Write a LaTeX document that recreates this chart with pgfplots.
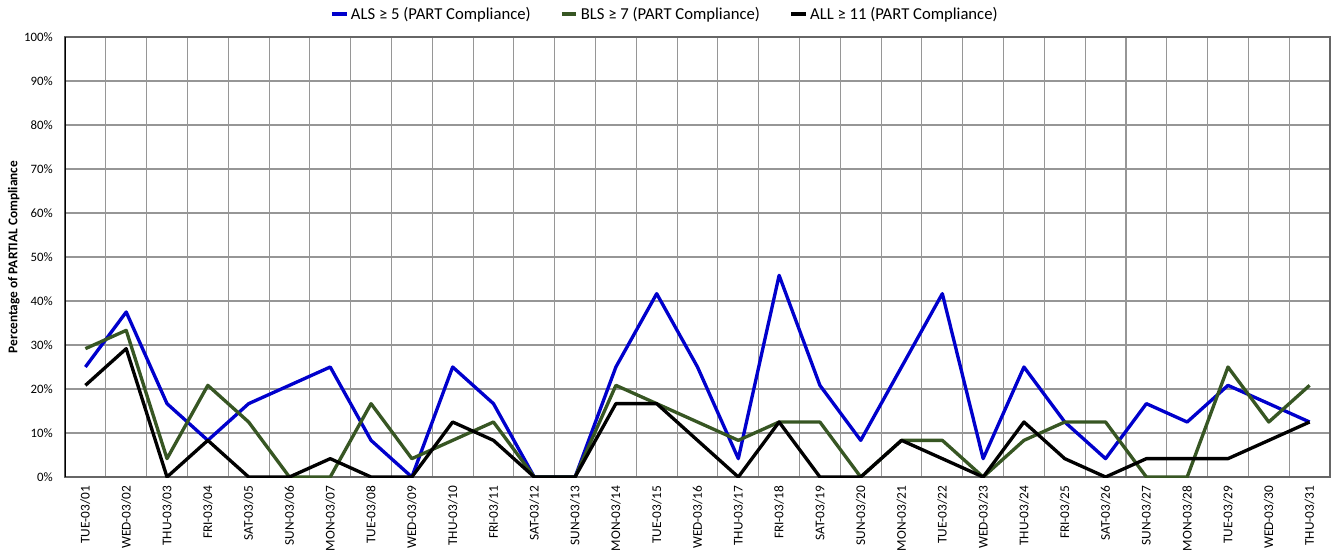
\documentclass[border=0pt]{standalone}
\usepackage{fontspec}
\setmainfont{Carlito}
\usepackage{pgfplots}
\pgfplotsset{compat=1.18}
\usepackage{pgfplotstable}
\definecolor{alsblue}{RGB}{0,0,204}
\definecolor{blsgreen}{RGB}{55,86,35}
\definecolor{gridgray}{RGB}{150,150,150}

\pgfplotstableread{
x als bls all
0 25 29.17 20.83
1 37.5 33.33 29.17
2 16.67 4.17 0
3 8.33 20.83 8.33
4 16.67 12.5 0
5 20.83 0 0
6 25 0 4.17
7 8.33 16.67 0
8 0 4.17 0
9 25 8.33 12.5
10 16.67 12.5 8.33
11 0 0 0
12 0 0 0
13 25 20.83 16.67
14 41.67 16.67 16.67
15 25 12.5 8.33
16 4.17 8.33 0
17 45.83 12.5 12.5
18 20.83 12.5 0
19 8.33 0 0
20 25 8.33 8.33
21 41.67 8.33 4.17
22 4.17 0 0
23 25 8.33 12.5
24 12.5 12.5 4.17
25 4.17 12.5 0
26 16.67 0 4.17
27 12.5 0 4.17
28 20.83 25 4.17
29 16.67 12.5 8.33
30 12.5 20.83 12.5
}\datatable

\begin{document}
\begin{tikzpicture}
\useasboundingbox (-48.75pt,-57.75pt) rectangle (957pt,357.75pt);
\begin{axis}[
  at={(0,0)}, anchor=south west,
  scale only axis,
  width=948.75pt, height=330pt,
  xmin=-0.5, xmax=30.5,
  ymin=0, ymax=100,
  xtick={0,...,30},
  xticklabels={TUE-03/01,WED-03/02,THU-03/03,FRI-03/04,SAT-03/05,SUN-03/06,MON-03/07,TUE-03/08,WED-03/09,THU-03/10,FRI-03/11,SAT-03/12,SUN-03/13,MON-03/14,TUE-03/15,WED-03/16,THU-03/17,FRI-03/18,SAT-03/19,SUN-03/20,MON-03/21,TUE-03/22,WED-03/23,THU-03/24,FRI-03/25,SAT-03/26,SUN-03/27,MON-03/28,TUE-03/29,WED-03/30,THU-03/31},
  minor xtick={0.5,1.5,2.5,3.5,4.5,5.5,6.5,7.5,8.5,9.5,10.5,11.5,12.5,13.5,14.5,15.5,16.5,17.5,18.5,19.5,20.5,21.5,22.5,23.5,24.5,25.5,26.5,27.5,28.5,29.5},
  xminorgrids,
  ytick={0,10,...,100},
  yticklabels={0\%,10\%,20\%,30\%,40\%,50\%,60\%,70\%,80\%,90\%,100\%},
  ymajorgrids,
  major tick length=0pt, minor tick length=0pt,
  grid style={draw=gridgray, line width=0.8pt},
  minor grid style={draw=gridgray, line width=0.8pt},
  axis line style={draw=gray!80!black, line width=0.8pt},
  xticklabel style={yshift=-6.5pt, rotate=90, anchor=east, font=\fontsize{10}{12}\selectfont, inner sep=0pt},
  yticklabel style={font=\fontsize{9.6}{11}\selectfont, inner sep=0pt, xshift=-9pt},
  ylabel={Percentage of PARTIAL Compliance},
  ylabel style={font=\bfseries\fontsize{10}{12}\selectfont, at={(axis description cs:-0.0405,0.5)}, anchor=center},
  legend columns=3,
  legend style={draw=none, fill=none, at={(0.4745,1.052)}, anchor=center,
    font=\fontsize{12.5}{14}\selectfont, inner sep=0pt,
    /tikz/every even column/.append style={column sep=20pt}},
  legend cell align=left,
  legend image code/.code={\draw[#1, line width=2.6pt] (0pt,0pt) -- (11pt,0pt);},
  every axis plot/.append style={line width=2.5pt, line join=round, mark=none},
]
\addplot[alsblue] table[x=x, y=als] {\datatable};
\addlegendentry{ALS ≥ 5 (PART Compliance)}
\addplot[blsgreen] table[x=x, y=bls] {\datatable};
\addlegendentry{BLS ≥ 7 (PART Compliance)}
\addplot[black] table[x=x, y=all] {\datatable};
\addlegendentry{ALL ≥ 11 (PART Compliance)}
\draw[black, line width=1pt] (rel axis cs:0,0) -- (rel axis cs:0,1);
\end{axis}
\end{tikzpicture}
\end{document}
